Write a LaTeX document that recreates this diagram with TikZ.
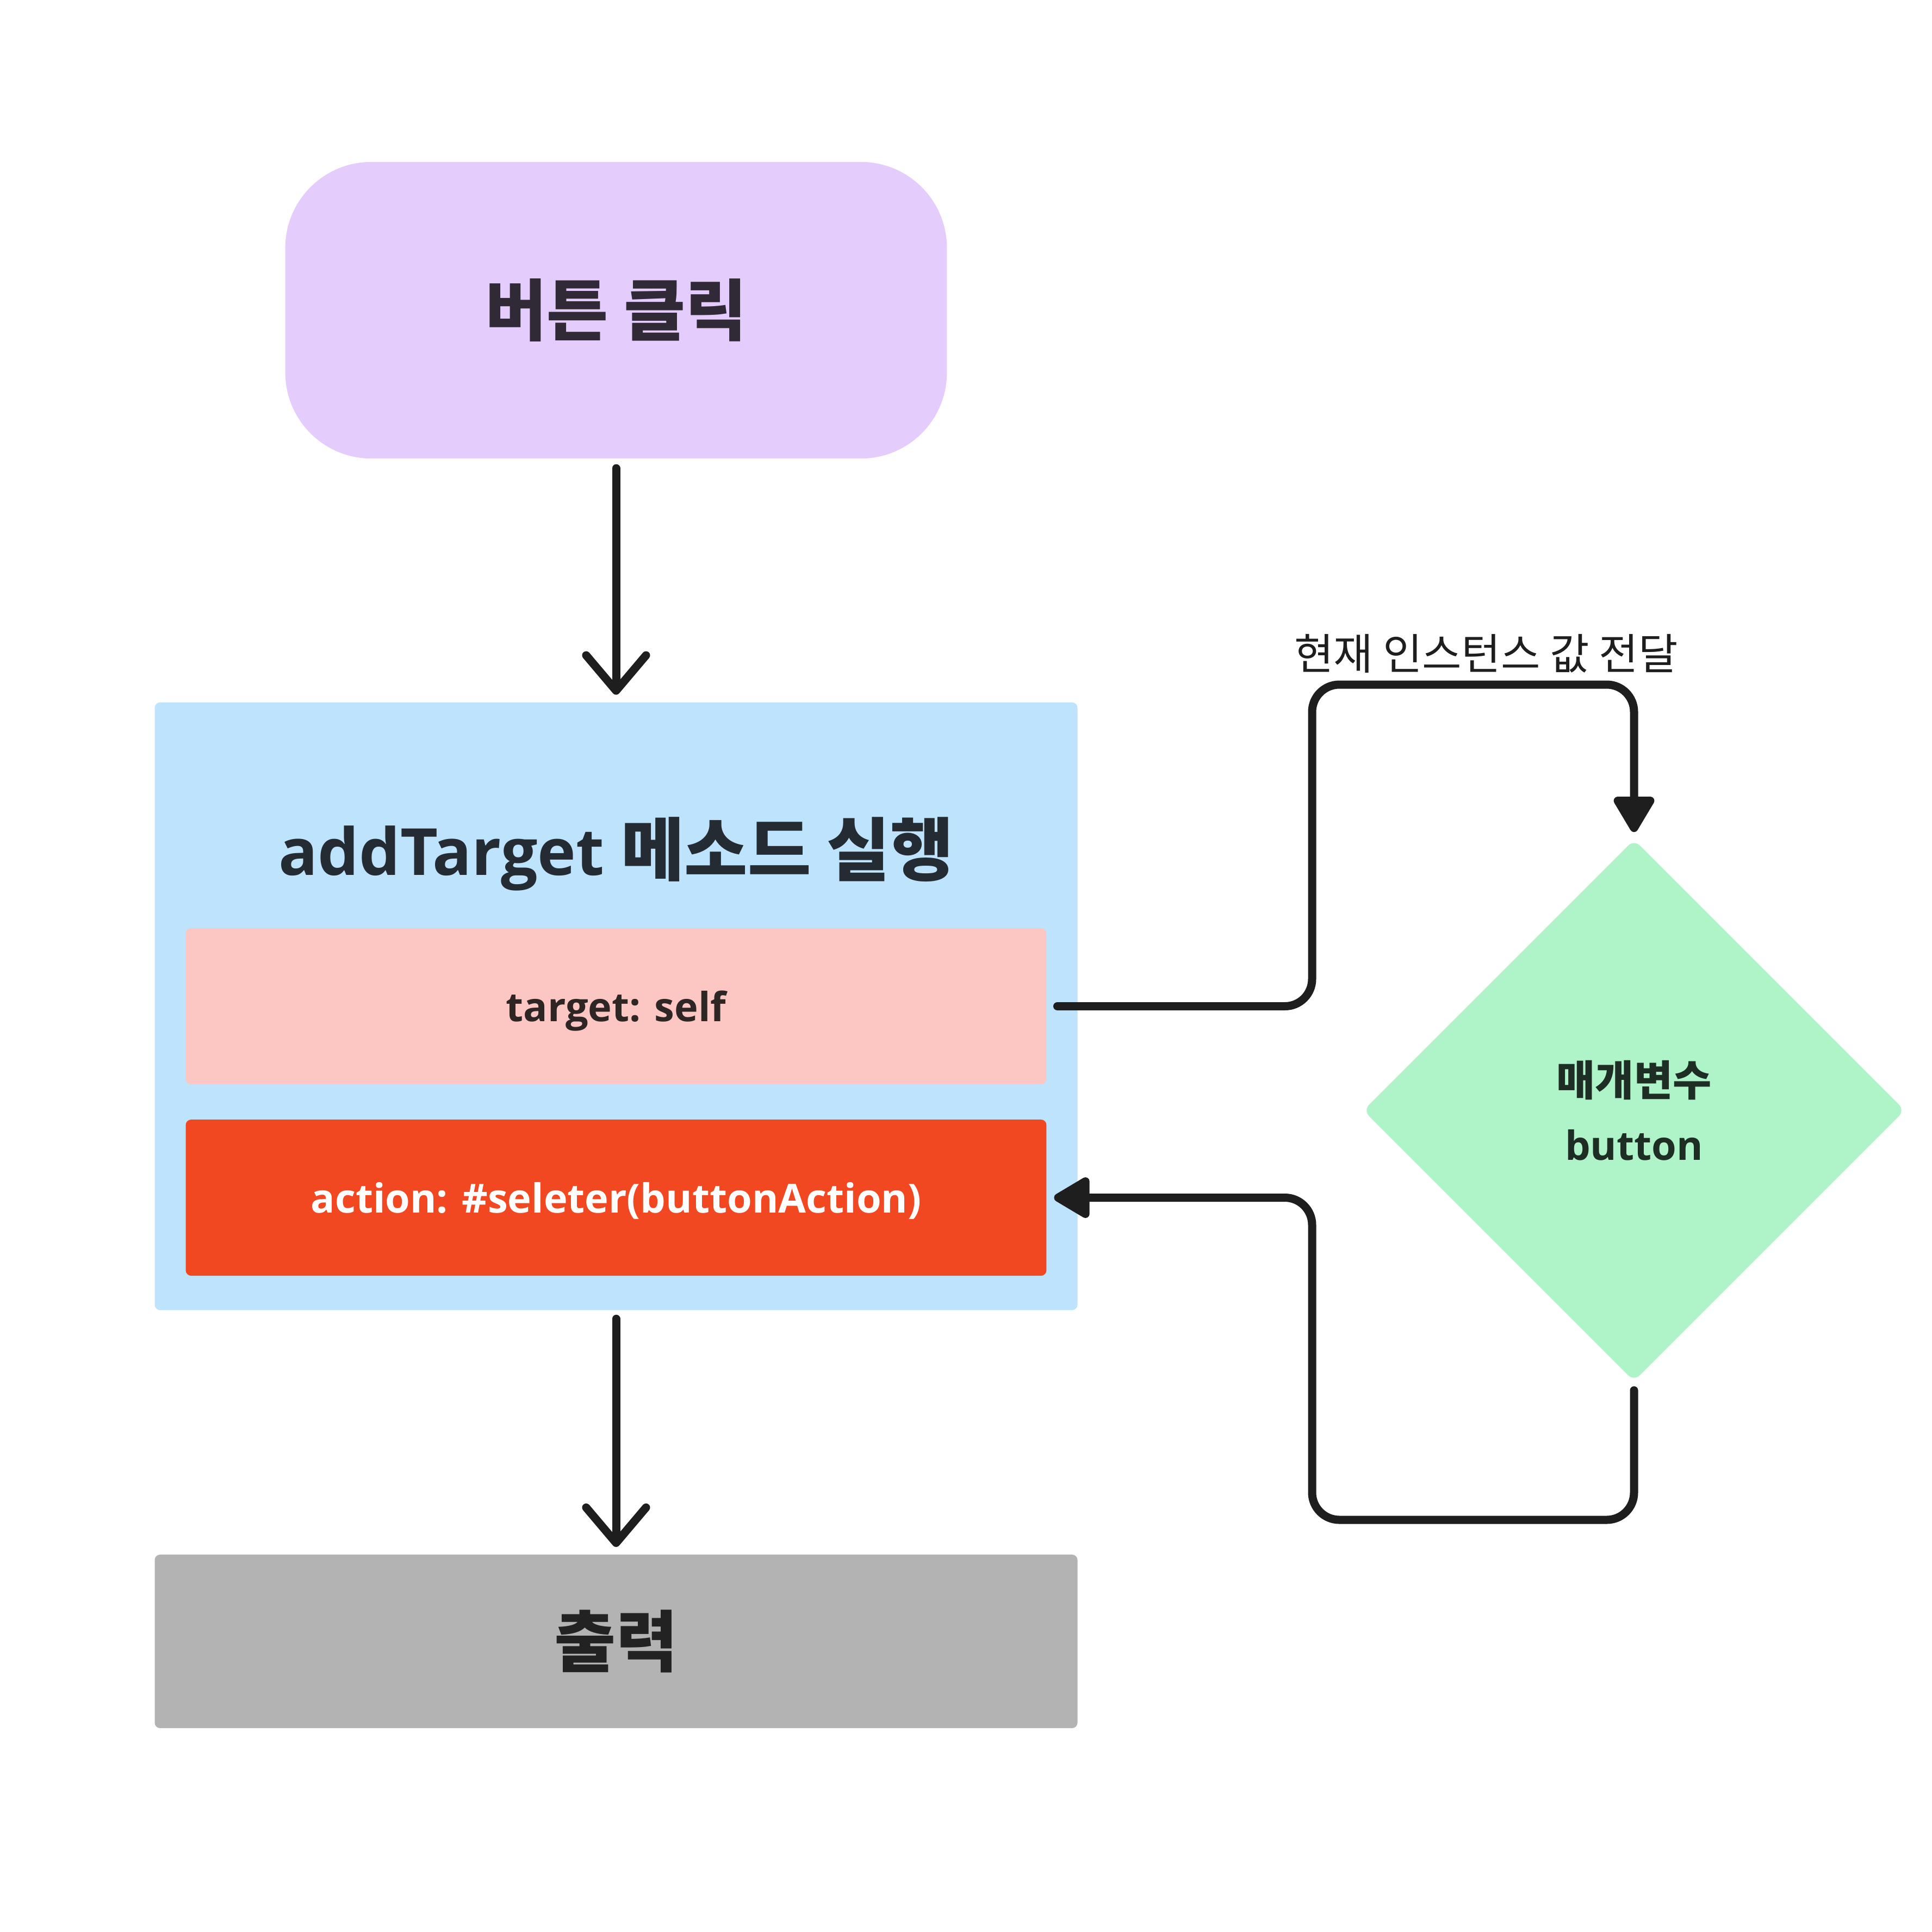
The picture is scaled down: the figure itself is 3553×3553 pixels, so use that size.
\documentclass[tikz,border=0pt]{standalone}
\usepackage{fontspec}
\setmainfont{Open Sans}
\newfontfamily\ko{Noto Sans CJK KR}
\usetikzlibrary{arrows.meta,shapes.geometric,calc}
\definecolor{cpurple}{HTML}{E4CCFD}
\definecolor{cblue}{HTML}{BDE3FD}
\definecolor{cpink}{HTML}{FCC7C2}
\definecolor{cred}{HTML}{F24822}
\definecolor{cgray}{HTML}{B3B3B3}
\definecolor{cgreen}{HTML}{AFF4C8}
\definecolor{cline}{HTML}{1E1E1E}
\definecolor{tpurple}{HTML}{2F2A36}
\definecolor{tblue}{HTML}{252B32}
\definecolor{tpink}{HTML}{2E2525}
\definecolor{tgreen}{HTML}{1F2E25}
\definecolor{tgray}{HTML}{222222}
\begin{document}
\begin{tikzpicture}[x=0.01cm,y=-0.01cm,
  box/.style={inner sep=0pt, outer sep=0pt},
  conn/.style={line width=1.5mm, draw=cline, line cap=round, line join=round},
  openarr/.style={conn, -{Straight Barb[length=6.5mm,width=11mm,round]}},
  filarr/.style={conn, rounded corners=5mm, -{Triangle[length=7.3mm,width=8.2mm,round]}},
  bigko/.style={font=\ko\bfseries\fontsize{35}{42}\selectfont},
  midtxt/.style={font=\bfseries\fontsize{21}{26}\selectfont, text depth=0pt}
]
\path[use as bounding box] (0,0) rectangle (3553,3553);
\fill[white] (0,0) rectangle (3553,3553);

\node[box, fill=cpurple, rounded corners=15.8mm, minimum width=12.16cm, minimum height=5.45cm, bigko, text=tpurple] (click) at (1133,570.5) {버튼 클릭};

\node[box, fill=cblue, rounded corners=1mm, minimum width=16.96cm, minimum height=11.17cm] (blue) at (1133,1850.5) {};
\node[box, text=tblue, font=\bfseries\fontsize{34}{40}\selectfont] (title) at (1133,1570) {addTarget {\ko\fontsize{36}{40}\selectfont 메소드 실행}};

\node[box, fill=cpink, rounded corners=1mm, minimum width=15.82cm, minimum height=2.87cm, midtxt, text=tpink] (pink) at (1133,1850.5) {target: self};
\node[box, fill=cred, rounded corners=1mm, minimum width=15.82cm, minimum height=2.87cm, midtxt, text=white] (red) at (1133,2202.5) {action: \#seleter(buttonAction)};

\node[box, fill=cgray, rounded corners=1mm, minimum width=16.96cm, minimum height=3.19cm, bigko, text=tgray] (gray) at (1133,3018.5) {출력};

\node[diamond, box, fill=cgreen, minimum width=9.95cm, minimum height=9.95cm, rounded corners=1.5mm, align=center, text=tgreen, font=\bfseries\fontsize{21}{33.6}\selectfont] (dia) at (3005,2042) {{\ko\fontsize{22}{33.6}\selectfont 매개변수}\\button};

\node[box, text=cline, font=\ko\fontsize{22.4}{26}\selectfont] (lbl) at (2733,1202) {현재 인스턴스 값 전달};

\coordinate (k1) at (2413,1259);
\coordinate (k2) at (2413,2795);

\draw[openarr] ($(click.south)+(0,18)$) -- ($(blue.north)+(0,-14)$);
\draw[filarr] ($(pink.east)+(20,0)$) -| (k1) -| ($(dia.north)+(0,-14)$);
\draw[filarr] ($(dia.south)+(0,17)$) |- (k2) |- ($(red.east)+(14,0)$);
\draw[openarr] ($(blue.south)+(0,16)$) -- ($(gray.north)+(0,-14)$);
\end{tikzpicture}
\end{document}
